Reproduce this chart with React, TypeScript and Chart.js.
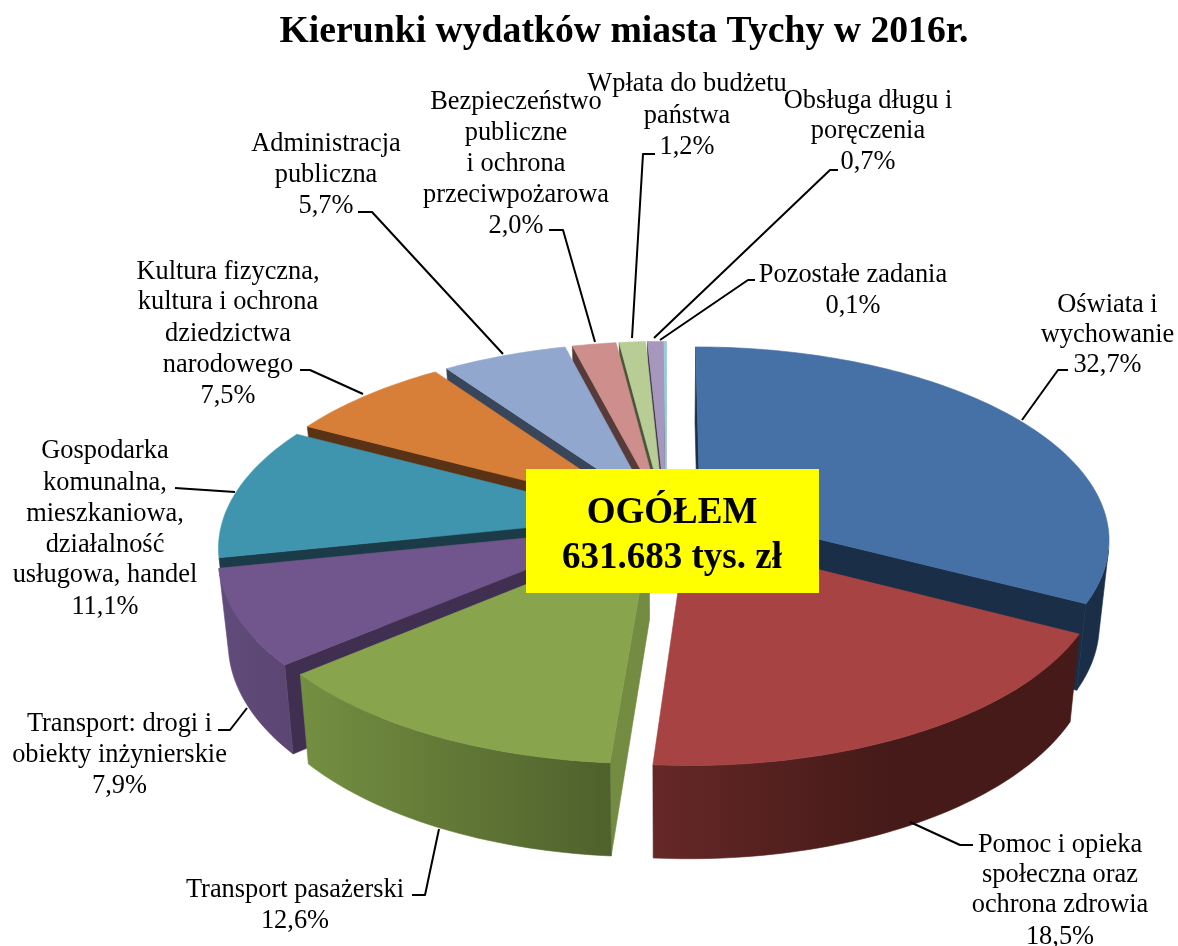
import React, { useEffect, useRef } from "react";
import { Chart, registerables } from "chart.js";

Chart.register(...registerables);

const titleText = "Kierunki wydatków miasta Tychy w 2016r.";
const categories = [
  ["Oświata i", "wychowanie"],
  ["Pomoc i opieka", "społeczna oraz", "ochrona zdrowia"],
  ["Transport pasażerski"],
  ["Transport: drogi i", "obiekty inżynierskie"],
  ["Gospodarka", "komunalna,", "mieszkaniowa,", "działalność", "usługowa, handel"],
  ["Kultura fizyczna,", "kultura i ochrona", "dziedzictwa", "narodowego"],
  ["Administracja", "publiczna"],
  ["Bezpieczeństwo", "publiczne", "i ochrona", "przeciwpożarowa"],
  ["Wpłata do budżetu", "państwa"],
  ["Obsługa długu i", "poręczenia"],
  ["Pozostałe zadania"],
];
const shares = [32.7, 18.5, 12.6, 7.9, 11.1, 7.5, 5.7, 2.0, 1.2, 0.7, 0.1];
const totalLines = ["OGÓŁEM", "631.683 tys. zł"];

const topColors = ["#4571A6", "#A74443", "#88A44D", "#70568C", "#4095AE", "#D77F38", "#91A7CE", "#CD8E8C", "#B7CD95", "#A797BD", "#92CFDD"];
const sideColors = ["#1B2E47", "#451A18", "#738C42", "#412F52", "#1A3B47", "#5A3316", "#394559", "#573B3B", "#4A553A", "#3E3550", "#4A7A85"];
const wallLeft = ["#1B2E47", "#652827", "#748F41", "#614B7A", "#1F4A58", "#5A3316", "#394559", "#573B3B", "#4A553A", "#3E3550", "#4A7A85"];
const wallRight = ["#1B2E47", "#451A18", "#4F612C", "#5A4573", "#1F4A58", "#5A3316", "#394559", "#573B3B", "#4A553A", "#3E3550", "#4A7A85"];
const explode = [40, 40.5, 36.5, 36.5, 36.5, 36.5, 36.5, 36.5, 36.5, 36.5, 36.5];

// 3-D view of the pie
const VIEW = { cx: 666, cy: 520, rx: 407, ry: 190, k: 0.146, depth: 83, floor: 0.978 };

// Label layout: centre x, middle y of each line, leader polyline
const labelLayout = [
  { x: 1107.5, ys: [305, 335, 365], line: [[1022, 420], [1058, 370], [1068, 370]] },
  { x: 1060, ys: [845, 875, 905, 937], line: [[910, 822], [960, 845], [973, 845]] },
  { x: 295, ys: [890, 921], line: [[439, 829], [425, 895], [412, 895]] },
  { x: 119.5, ys: [724, 755, 786], line: [[247, 708], [230, 730], [218, 730]] },
  { x: 105, ys: [451, 483, 514, 545, 575, 607], line: [[235, 492], [175, 488]] },
  { x: 228, ys: [272, 302, 334, 365, 396], line: [[363, 394], [310, 370], [300, 370]] },
  { x: 326, ys: [144, 175, 206], line: [[503, 354], [372, 212], [358, 212]] },
  { x: 516, ys: [102, 133, 164, 195, 226], line: [[595, 342], [563, 230], [549, 230]] },
  { x: 687, ys: [84, 116, 147], line: [[632, 338], [643, 154], [655, 154]] },
  { x: 868, ys: [101, 131, 162], line: [[654, 338], [830, 170], [838, 170]] },
  { x: 853, ys: [275, 306], line: [[660, 340], [748, 280], [755, 280]] },
];
const totalBox = { x: 526, y: 469, w: 293, h: 124, cx: 672, ys: [513, 558] };

type P = [number, number];

function project(u: number, v: number, level: number): P {
  const s = 1 / (1 - VIEW.k * v);
  const b = level ? VIEW.floor : 1;
  return [
    VIEW.cx + VIEW.rx * u * s * b,
    VIEW.cy + VIEW.ry * v * s * b + level * VIEW.depth * s,
  ];
}

function fillPoly(ctx: CanvasRenderingContext2D, pts: P[], fill: string | CanvasGradient) {
  ctx.beginPath();
  pts.forEach((p, i) => (i ? ctx.lineTo(p[0], p[1]) : ctx.moveTo(p[0], p[1])));
  ctx.closePath();
  ctx.fillStyle = fill;
  ctx.strokeStyle = fill;
  ctx.lineWidth = 0.6;
  ctx.fill();
  ctx.stroke();
}

function area(pts: P[]) {
  let a = 0;
  pts.forEach((p, i) => {
    const q = pts[(i + 1) % pts.length];
    a += p[0] * q[1] - q[0] * p[1];
  });
  return a;
}

const pie3d = {
  id: "pie3d",
  beforeDatasetsDraw(chart: any) {
    const ctx: CanvasRenderingContext2D = chart.ctx;
    const arcs = chart.getDatasetMeta(0).data as any[];
    const items = arcs.map((el, i) => {
      const t0 = el.startAngle + Math.PI / 2;
      const t1 = el.endAngle + Math.PI / 2;
      const mid = (t0 + t1) / 2;
      const e = el.options.offset / VIEW.rx;
      return { i, t0, t1, ou: e * Math.sin(mid), ov: -e * Math.cos(mid), order: -Math.cos(mid) };
    });
    items.sort((a, b) => a.order - b.order);
    ctx.save();
    for (const it of items) {
      const { i, t0, t1, ou, ov } = it;
      const at = (t: number, level: number) => project(ou + Math.sin(t), ov - Math.cos(t), level);
      const n = Math.max(4, Math.ceil((t1 - t0) / 0.02));
      const thetas: number[] = [];
      for (let j = 0; j <= n; j++) thetas.push(t0 + ((t1 - t0) * j) / n);
      const O = project(ou, ov, 0);
      const O2 = project(ou, ov, 1);

      // radial faces
      const startQuad: P[] = [O, at(t0, 0), at(t0, 1), O2];
      if (area(startQuad) < 0) fillPoly(ctx, startQuad, sideColors[i]);
      const endQuad: P[] = [O, at(t1, 0), at(t1, 1), O2];
      if (area(endQuad) > 0) fillPoly(ctx, endQuad, sideColors[i]);

      // rim wall: the run of segments that face the viewer
      const upper: P[] = [];
      const lower: P[] = [];
      for (let j = 0; j < n; j++) {
        const q: P[] = [at(thetas[j], 0), at(thetas[j + 1], 0), at(thetas[j + 1], 1), at(thetas[j], 1)];
        if (area(q) < 0) {
          if (!upper.length) {
            upper.push(q[0]);
            lower.push(q[3]);
          }
          upper.push(q[1]);
          lower.push(q[2]);
        }
      }
      if (upper.length) {
        const xs = upper.concat(lower).map((p) => p[0]);
        const g = ctx.createLinearGradient(Math.min(...xs), 0, Math.max(...xs), 0);
        g.addColorStop(0, wallLeft[i]);
        g.addColorStop(i === 1 ? 0.55 : 1, wallRight[i]);
        g.addColorStop(1, wallRight[i]);
        fillPoly(ctx, upper.concat(lower.reverse()), g);
      }

      // top face
      fillPoly(ctx, [O, ...thetas.map((t) => at(t, 0))], topColors[i]);
    }
    ctx.restore();
    return false;
  },
  afterDraw(chart: any) {
    const ctx: CanvasRenderingContext2D = chart.ctx;
    ctx.save();
    ctx.textAlign = "center";
    ctx.textBaseline = "middle";

    ctx.strokeStyle = "#000";
    ctx.lineWidth = 2;
    ctx.lineJoin = "round";
    labelLayout.forEach((l) => {
      ctx.beginPath();
      l.line.forEach((p, j) => (j ? ctx.lineTo(p[0], p[1]) : ctx.moveTo(p[0], p[1])));
      ctx.stroke();
    });

    ctx.fillStyle = "#000";
    ctx.font = '26.4px "Liberation Serif"';
    categories.forEach((lines, i) => {
      const text = [...lines, shares[i].toFixed(1).replace(".", ",") + "%"];
      text.forEach((t, j) => ctx.fillText(t, labelLayout[i].x, labelLayout[i].ys[j]));
    });

    ctx.fillStyle = "#FFFF00";
    ctx.fillRect(totalBox.x, totalBox.y, totalBox.w, totalBox.h);
    ctx.fillStyle = "#000";
    ctx.font = 'bold 37px "Liberation Serif"';
    totalLines.forEach((t, j) => ctx.fillText(t, totalBox.cx, totalBox.ys[j]));
    ctx.restore();
  },
};

export default function App() {
  const ref = useRef<HTMLCanvasElement>(null);
  useEffect(() => {
    const chart = new Chart(ref.current!, {
      type: "pie",
      data: {
        labels: categories.map((c) => c.join(" ")),
        datasets: [
          {
            data: shares,
            backgroundColor: topColors,
            offset: explode,
            borderWidth: 0,
          },
        ],
      },
      options: {
        responsive: false,
        animation: false,
        layout: { padding: { left: 70 } },
        plugins: {
          legend: { display: false },
          tooltip: { enabled: false },
          title: {
            display: true,
            text: titleText,
            fullSize: false,
            color: "#000",
            font: { family: '"Liberation Serif"', size: 37.7, weight: "bold" },
            padding: { top: 10, bottom: 4 },
          },
        },
      },
      plugins: [pie3d],
    } as any);
    return () => chart.destroy();
  }, []);
  return (
    <div style={{ position: "absolute", left: 0, top: 0, background: "#fff" }}>
      <canvas ref={ref} width={1178} height={946} style={{ display: "block" }} />
    </div>
  );
}
